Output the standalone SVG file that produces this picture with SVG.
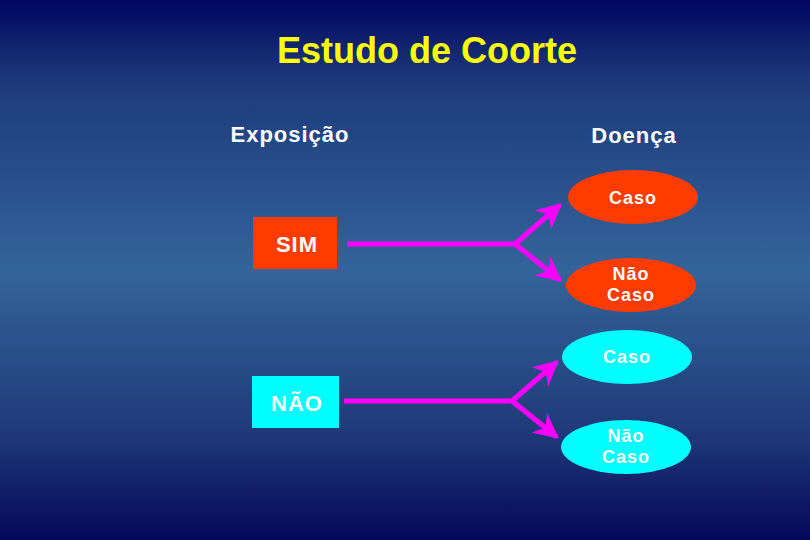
<svg xmlns="http://www.w3.org/2000/svg" width="810" height="540" viewBox="0 0 810 540">
<defs>
<linearGradient id="bg" x1="0" y1="0" x2="0" y2="1">
<stop offset="0" stop-color="#000660"/>
<stop offset="0.15" stop-color="#1d3a7a"/>
<stop offset="0.5" stop-color="#33649a"/>
<stop offset="0.8" stop-color="#1f3a78"/>
<stop offset="1" stop-color="#04075a"/>
</linearGradient>
<marker id="ah" viewBox="0 0 10 10" refX="9" refY="5" markerWidth="5" markerHeight="5" orient="auto" markerUnits="strokeWidth">
<path d="M0,0 L10,5 L0,10 L3,5 Z" fill="#ff00ff"/>
</marker>
<style>
.lbl{font-family:"Liberation Sans",Arial,sans-serif;fill:#ffffff;text-anchor:middle;font-weight:bold}
.hd{font-size:22px;letter-spacing:1px}
.nd{font-size:22px;letter-spacing:1px}
.ov{font-size:18px;letter-spacing:1px}
.con{stroke:#ff00ff;stroke-width:5;fill:none}
.red{fill:#ff3c00}
.cy{fill:#00ffff}
</style>
</defs>
<rect width="810" height="540" fill="url(#bg)"/>
<text x="427" y="63" font-family="Liberation Sans,Arial,sans-serif" font-weight="bold" font-size="36" fill="#ffff00" text-anchor="middle">Estudo de Coorte</text>
<text class="lbl hd" x="290" y="142">Exposição</text>
<text class="lbl hd" x="634" y="143">Doença</text>
<g id="connectors">
<path class="con" d="M347,244 H515"/>
<path class="con" d="M515,244 L560,205" marker-end="url(#ah)"/>
<path class="con" d="M515,244 L560,280" marker-end="url(#ah)"/>
<path class="con" d="M344,401 H512"/>
<path class="con" d="M512,401 L557,362" marker-end="url(#ah)"/>
<path class="con" d="M512,401 L557,437" marker-end="url(#ah)"/>
</g>
<g id="sim">
<rect class="red" x="253" y="217" width="84" height="52"/>
<text class="lbl nd" x="297" y="252">SIM</text>
</g>
<g id="nao">
<rect class="cy" x="252" y="376" width="87" height="52"/>
<text class="lbl nd" x="297" y="411">NÃO</text>
</g>
<g id="sim-caso">
<ellipse class="red" cx="633" cy="197" rx="65" ry="27"/>
<text class="lbl ov" x="633" y="204">Caso</text>
</g>
<g id="sim-naocaso">
<ellipse class="red" cx="631" cy="285" rx="65" ry="27"/>
<text class="lbl ov" x="631" y="280">Não</text>
<text class="lbl ov" x="631" y="301">Caso</text>
</g>
<g id="nao-caso">
<ellipse class="cy" cx="627" cy="357" rx="65" ry="27"/>
<text class="lbl ov" x="627" y="363">Caso</text>
</g>
<g id="nao-naocaso">
<ellipse class="cy" cx="626" cy="447" rx="65" ry="27"/>
<text class="lbl ov" x="626" y="442">Não</text>
<text class="lbl ov" x="626" y="463">Caso</text>
</g>
</svg>
